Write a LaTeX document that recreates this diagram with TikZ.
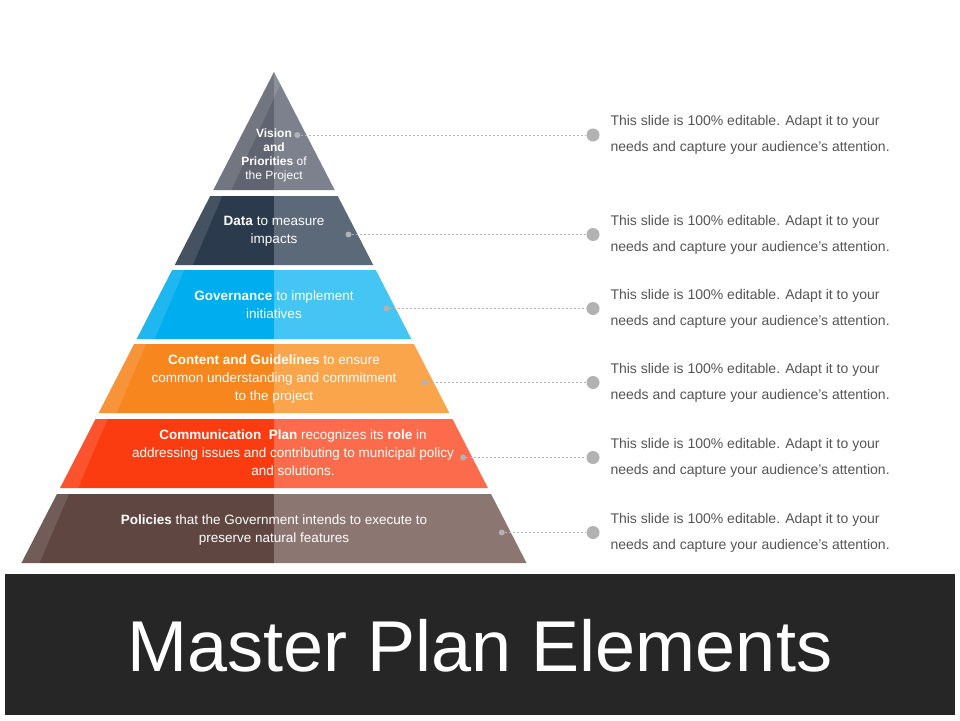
\documentclass[tikz,border=0pt]{standalone}
\usepackage{fontspec}
\setmainfont{Liberation Sans}
\usetikzlibrary{positioning}
\definecolor{gA}{HTML}{5F6470}\definecolor{gB}{HTML}{7C818D}
\definecolor{nA}{HTML}{2B3B4D}\definecolor{nB}{HTML}{5B6979}
\definecolor{cA}{HTML}{00AEEF}\definecolor{cB}{HTML}{45C5F3}
\definecolor{oA}{HTML}{F7861E}\definecolor{oB}{HTML}{FAA44C}
\definecolor{rA}{HTML}{FA3C10}\definecolor{rB}{HTML}{FC6B4B}
\definecolor{bA}{HTML}{5F4641}\definecolor{bB}{HTML}{8C7671}
\definecolor{barbg}{HTML}{262626}
\definecolor{txtgray}{HTML}{555555}
\tikzset{
  smalldot/.style={circle,fill=black!30,inner sep=0pt,minimum size=6pt},
  bigdot/.style={circle,fill=black!30,inner sep=0pt,minimum size=13pt},
  leader/.style={black!30,dashed,dash pattern=on 2pt off 2pt,line width=0.6pt},
  sidetext/.style={anchor=west,align=left,text=txtgray,font=\fontsize{14}{26}\selectfont},
  layertext/.style={text=white,align=center,font=\fontsize{13.5}{18}\selectfont}
}
\begin{document}
\begin{tikzpicture}[x=1pt,y=-1pt]
    \useasboundingbox (0,0) rectangle (960,720);
    \fill[white] (0,0) rectangle (960,720);
    % layers: top, bottom, dark, light
    \foreach \t/\b/\ca/\cb/\n in {72/190/gA/gB/1, 196/265/nA/nB/2, 270/339/cA/cB/3,
                                  344/413/oA/oB/4, 419/488/rA/rB/5, 494/563/bA/bB/6} {
        \pgfmathsetmacro{\wt}{0.5143*(\t-72)}
        \pgfmathsetmacro{\wb}{0.5143*(\b-72)}
        \fill[\ca] (274-\wt,\t) -- (274,\t) -- (274,\b) -- (274-\wb,\b) -- cycle;
        \fill[\cb] (274,\t) -- (274+\wt,\t) -- (274+\wb,\b) -- (274,\b) -- cycle;
        \fill[white,opacity=0.12] (274-\wt,\t) -- (274-\wt+12,\t) -- (274-\wb+18,\b) -- (274-\wb,\b) -- cycle;
        \pgfmathsetmacro{\ym}{(\t+\b)/2}
        \pgfmathsetmacro{\wm}{0.5143*(\ym-72)-15}
        \node[smalldot] (s\n) at (274+\wm+8,\ym+4) {};
        \node[bigdot] (d\n) at (593,\ym+4) {};
        \draw[leader] (s\n) -- (d\n);
        \node[sidetext] (t\n) at (607,\ym+4) {This slide is 100\% editable. Adapt it to your\\needs and capture your audience's attention.};
    }
    \node[layertext,font=\fontsize{12}{14}\selectfont] (l1) at (274,155) {\textbf{Vision}\\\textbf{and}\\\textbf{Priorities} of\\the Project};
    \node[layertext] (l2) at (274,231) {\textbf{Data} to measure\\impacts};
    \node[layertext] (l3) at (274,305) {\textbf{Governance} to implement\\initiatives};
    \node[layertext] (l4) at (274,379) {\textbf{Content and Guidelines} to ensure\\common understanding and commitment\\to the project};
    \node[layertext] (l5) at (293,453) {\textbf{Communication\ \ Plan} recognizes its \textbf{role} in\\addressing issues and contributing to municipal policy\\and solutions.};
    \node[layertext] (l6) at (274,530) {\textbf{Policies} that the Government intends to execute to\\preserve natural features};
    % title bar
    \fill[barbg] (5,574) rectangle (955,715);
    \node[text=white,font=\fontsize{72}{80}\selectfont] (title) at (480,646) {Master Plan Elements};
\end{tikzpicture}
\end{document}
